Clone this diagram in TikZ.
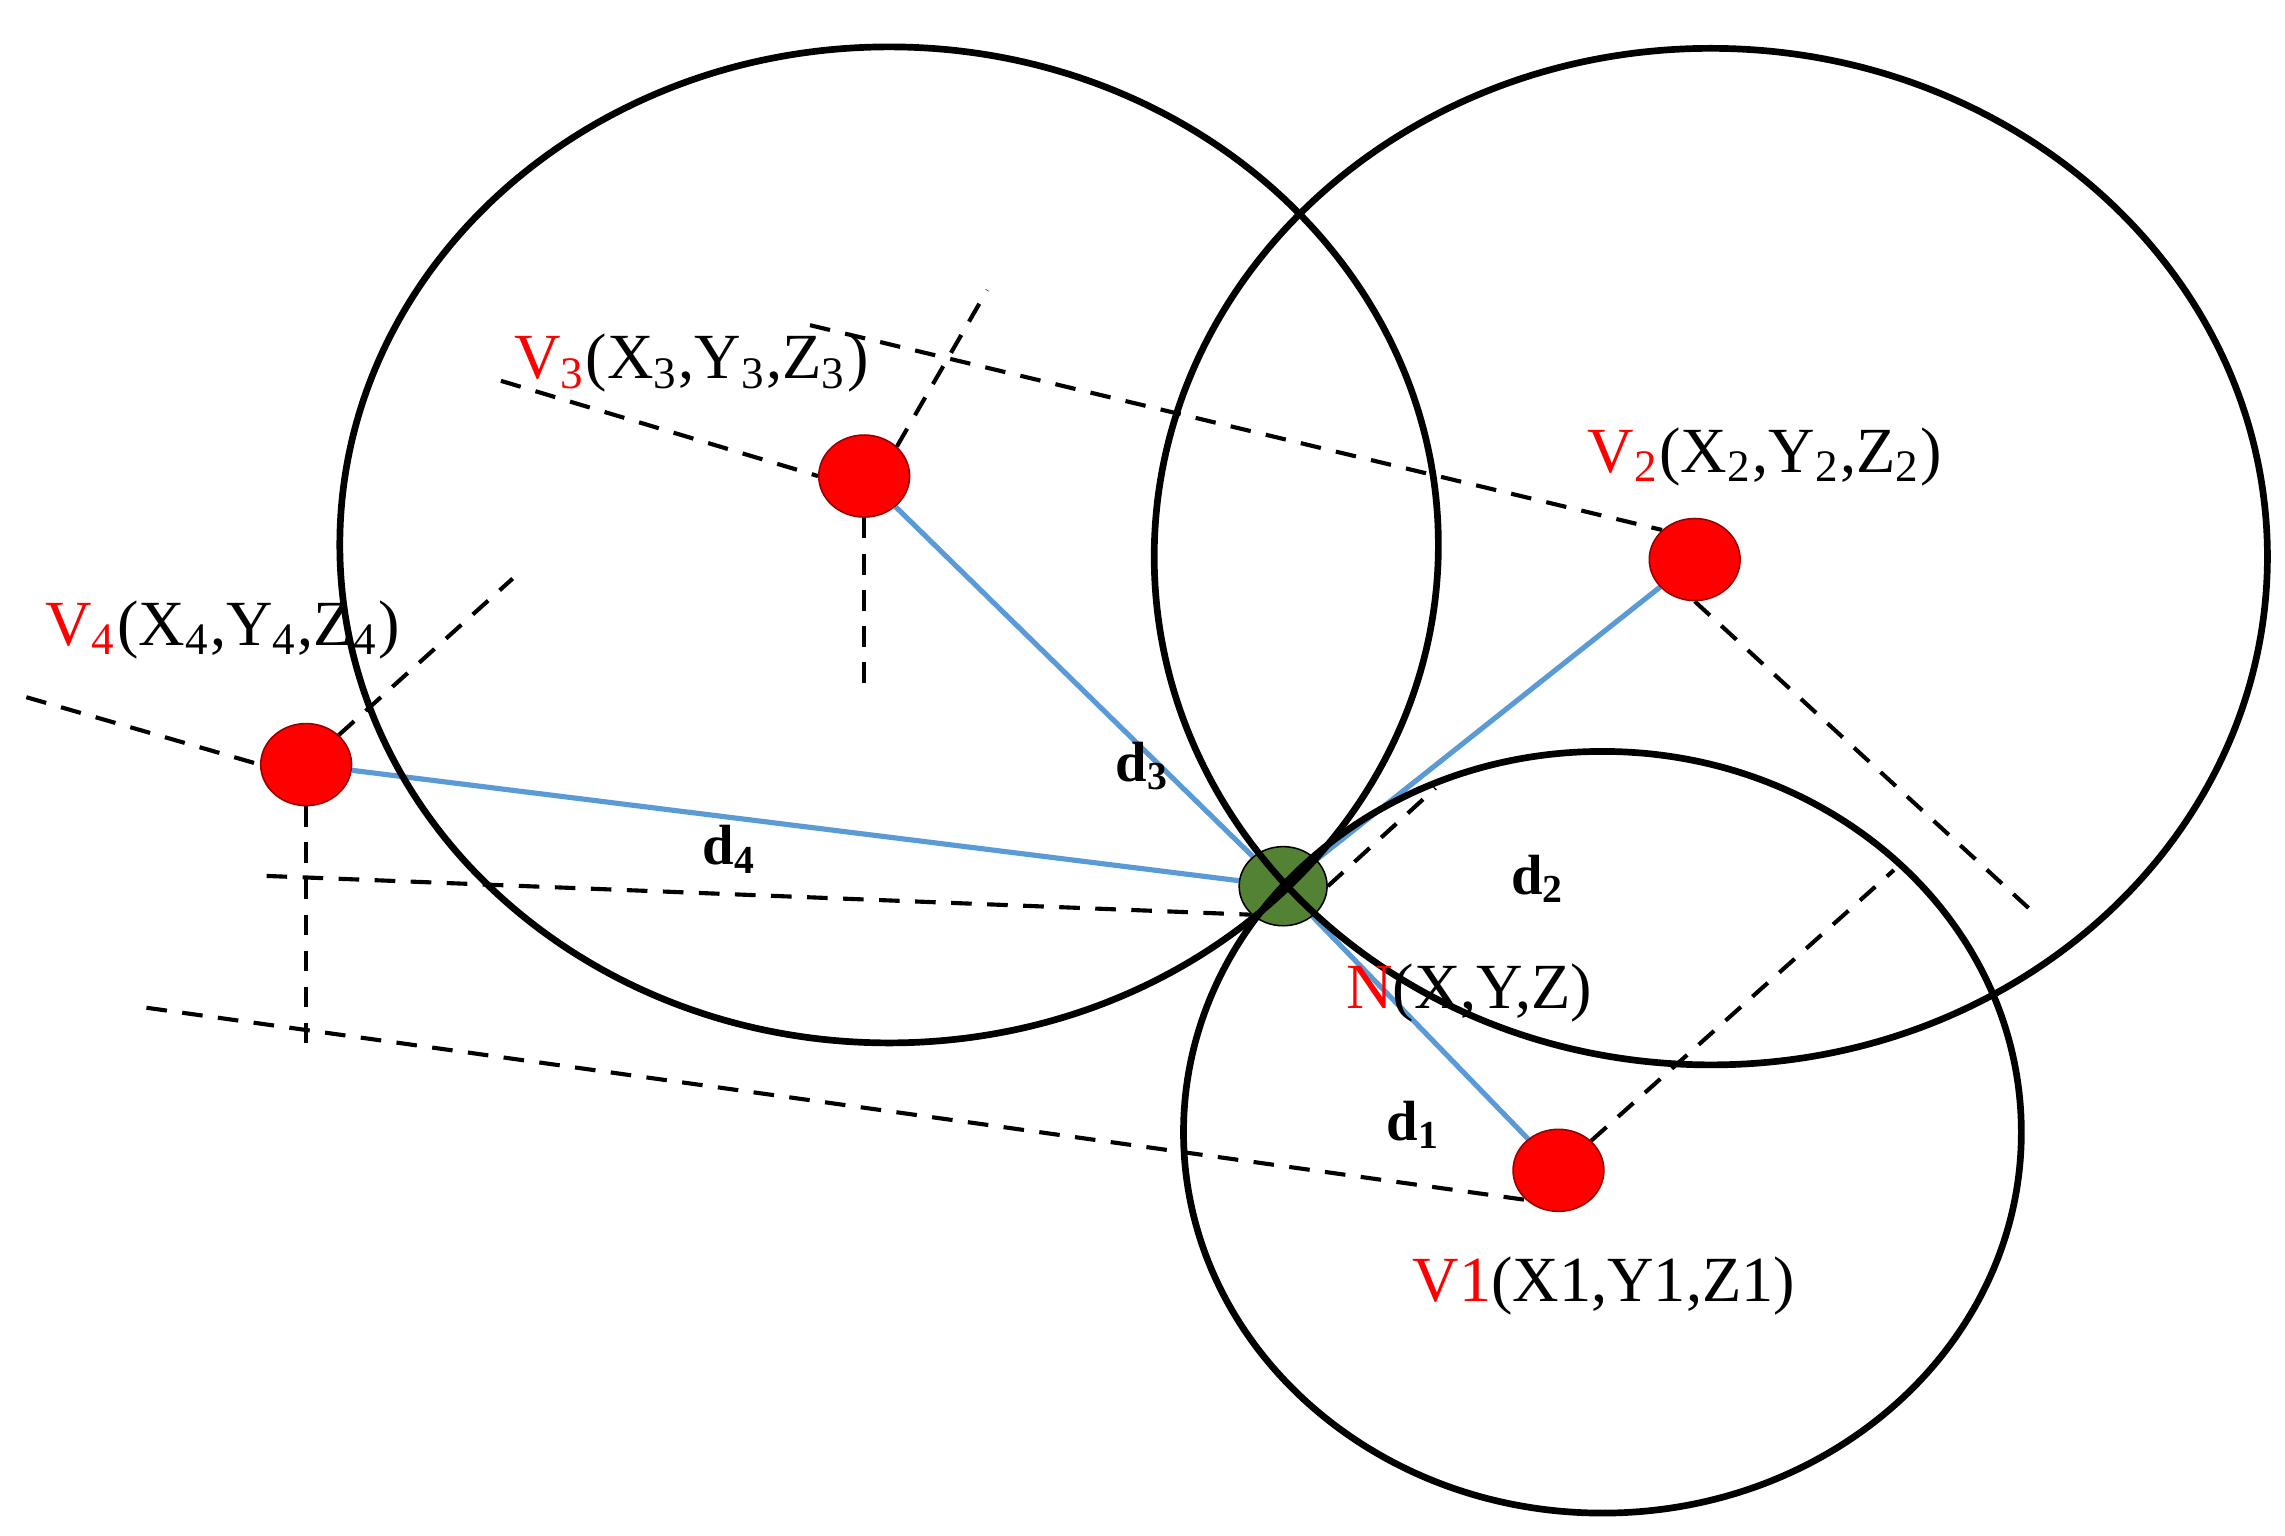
\documentclass[tikz,border=0pt]{standalone}
\usepackage{fontspec}
\setmainfont{Liberation Serif}
\usetikzlibrary{shapes.geometric}
\pgfdeclarelayer{back}
\pgfsetlayers{back,main}
\newcommand{\sbs}[1]{\textsubscript{#1}}
\begin{document}
\begin{tikzpicture}[x=0.01cm,y=-0.01cm,
  ring/.style={line width=1.3pt},
  dsh/.style={line width=0.8pt,dash pattern=on 4pt off 3pt},
  blu/.style={draw={rgb,255:red,91;green,155;blue,213},line width=1pt},
  vn/.style={ellipse,draw={rgb,255:red,150;green,0;blue,0},line width=0.3pt,fill=red,minimum width=0.62cm,minimum height=0.56cm,inner sep=0},
  gn/.style={ellipse,draw=black,line width=0.3pt,fill={rgb,255:red,84;green,130;blue,53},minimum width=0.60cm,minimum height=0.54cm,inner sep=0},
  lab/.style={font=\fontsize{12.5}{15}\selectfont,inner sep=0},
  dl/.style={font=\bfseries\fontsize{11}{13}\selectfont,inner sep=0}]
\useasboundingbox (0,0) rectangle (1560,1048);
\coordinate (a1) at (342,260); \coordinate (a2) at (674,198); \coordinate (a3) at (590,467);
\coordinate (b1) at (553,222); \coordinate (b2) at (1385,620);
\coordinate (c1) at (18,476); \coordinate (c2) at (350,395); \coordinate (c3) at (209,720);
\coordinate (e1) at (182,598); \coordinate (e2) at (100,688);
\coordinate (f1) at (1293,594); \coordinate (g1) at (980,538);
\node[vn] (V3) at (590,325) {};
\node[vn] (V2) at (1157,382) {};
\node[vn] (V4) at (209,522) {};
\node[vn] (V1) at (1064,799) {};
\node[gn] (N) at (876,605) {};
\begin{pgfonlayer}{back}
\draw[dsh] (a1) -- (V3.west); \draw[dsh] (V3.north east) -- (a2); \draw[dsh] (V3.south) -- (a3);
\draw[dsh] (b1) -- (V2.north west); \draw[dsh] (V2.south) -- (b2);
\draw[dsh] (c1) -- (V4.west); \draw[dsh] (V4.north east) -- (c2); \draw[dsh] (V4.south) -- (c3);
\draw[dsh] (e1) -- (N.south west);
\draw[dsh] (e2) -- (V1.south west);
\draw[dsh] (V1.north east) -- (f1);
\draw[dsh] (N.east) -- (g1);
\draw[blu] (V3) -- (N); \draw[blu] (V2) -- (N); \draw[blu] (V4) -- (N); \draw[blu] (V1) -- (N);
\end{pgfonlayer}
\draw[ring] (607,372) ellipse [x radius=375, y radius=340];
\draw[ring] (1168,380) ellipse [x radius=380, y radius=347];
\draw[ring] (1094,773) ellipse [x radius=286, y radius=260];
\node[lab] (L3) at (472,248) {\textcolor{red}{V\sbs{3}}(X\sbs{3},Y\sbs{3},Z\sbs{3})};
\node[lab] (L2) at (1205,312) {\textcolor{red}{V\sbs{2}}(X\sbs{2},Y\sbs{2},Z\sbs{2})};
\node[lab] (L4) at (152,430) {\textcolor{red}{V\sbs{4}}(X\sbs{4},Y\sbs{4},Z\sbs{4})};
\node[lab] (LN) at (1003,678) {\textcolor{red}{N}(X,Y,Z)};
\node[lab] (L1) at (1095,878) {\textcolor{red}{V1}(X1,Y1,Z1)};
\node[dl] (D3) at (780,523) {d\sbs{3}};
\node[dl] (D4) at (498,580) {d\sbs{4}};
\node[dl] (D2) at (1050,600) {d\sbs{2}};
\node[dl] (D1) at (965,768) {d\sbs{1}};
\end{tikzpicture}
\end{document}
